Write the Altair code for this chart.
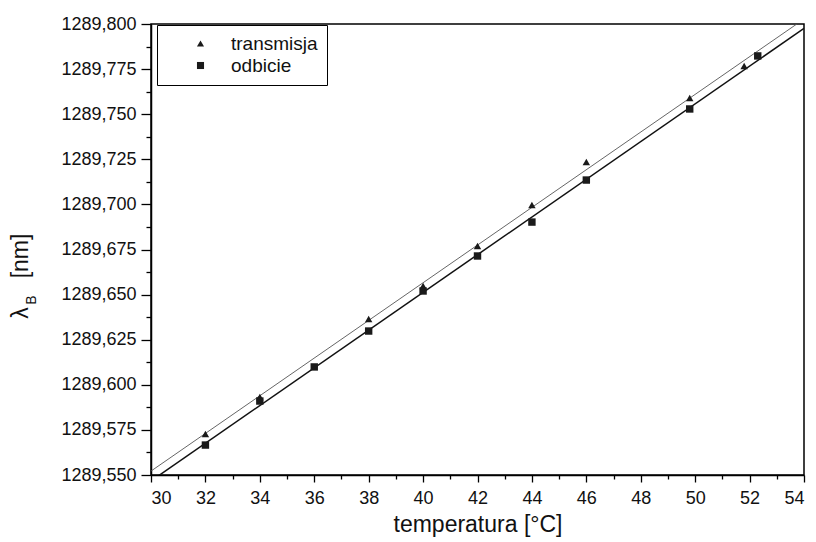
import altair as alt
import pandas as pd

# --- data ---
trans_x = [32, 34, 38, 40, 42, 44, 46, 49.8, 51.8]
trans_y = [1289.5727, 1289.5932, 1289.6365, 1289.6548, 1289.6769, 1289.6997, 1289.7235, 1289.7590, 1289.7767]
odb_x = [32, 34, 36, 38, 40, 42, 44, 46, 49.8, 52.3]
odb_y = [1289.5666, 1289.5910, 1289.6099, 1289.6298, 1289.6520, 1289.6714, 1289.6902, 1289.7135, 1289.7529, 1289.7823]
series_names = ["transmisja", "odbicie"]

x_ticks = [30, 31, 32, 33, 34, 35, 36, 37, 38, 39, 40, 41, 42, 43, 44, 45, 46, 47, 48, 49, 50, 51, 52, 53, 54]
y_ticks = [1289.55, 1289.5625, 1289.575, 1289.5875, 1289.6, 1289.6125, 1289.625, 1289.6375,
           1289.65, 1289.6625, 1289.675, 1289.6875, 1289.7, 1289.7125, 1289.725, 1289.7375,
           1289.75, 1289.7625, 1289.775, 1289.7875, 1289.8]

rows = [{"temp": x, "lam": y, "series": series_names[0]} for x, y in zip(trans_x, trans_y)]
rows += [{"temp": x, "lam": y, "series": series_names[1]} for x, y in zip(odb_x, odb_y)]
df = pd.DataFrame(rows)
df["fit"] = df["series"]

FONT = "Liberation Sans"

x_enc = alt.X(
    "temp:Q",
    scale=alt.Scale(domain=[30, 54], nice=False, zero=False),
    axis=alt.Axis(
        values=x_ticks,
        labelExpr="datum.value % 2 == 0 ? format(datum.value, 'd') : ''",
        tickSize={"condition": {"test": "datum.value % 2 == 0", "value": 7}, "value": 4},
        title="temperatura [°C]",
        titlePadding=6,
        labelPadding=7,
    ),
)
y_enc = alt.Y(
    "lam:Q",
    scale=alt.Scale(domain=[1289.55, 1289.80], nice=False, zero=False),
    axis=alt.Axis(
        values=y_ticks,
        labelExpr="abs(datum.value*40 - round(datum.value*40)) < 0.01 ? replace(format(datum.value, '.3f'), '.', ',') : ''",
        tickSize={"condition": {"test": "abs(datum.value*40 - round(datum.value*40)) < 0.01", "value": 10}, "value": 5},
        title=None,
        labelPadding=5,
    ),
)

base = alt.Chart(df)

# fit lines: domain order reversed so their (hidden) legends do not merge with the shape legend
fit_domain = series_names[::-1]
lines = base.transform_regression(
    "temp", "lam", groupby=["fit"], extent=[30, 54]
).mark_line(clip=True).encode(
    x=x_enc,
    y=y_enc,
    color=alt.Color("fit:N", scale=alt.Scale(domain=fit_domain, range=["#111111", "#555555"]), legend=None),
    strokeWidth=alt.StrokeWidth("fit:N", scale=alt.Scale(domain=fit_domain, range=[1.5, 0.9]), legend=None),
)

points = base.mark_point(filled=True, opacity=1, color="#1a1a1a", size=55).encode(
    x=x_enc,
    y=y_enc,
    shape=alt.Shape(
        "series:N",
        scale=alt.Scale(domain=series_names, range=["triangle-up", "square"]),
        legend=alt.Legend(
            title=None,
            orient="none",
            legendX=6,
            legendY=1,
            strokeColor="black",
            fillColor="white",
            padding=9,
            symbolOffset=25,
            labelOffset=21,
            labelFontSize=19,
            labelFont=FONT,
            labelColor="#111",
            symbolSize=50,
            symbolFillColor="#1a1a1a",
            symbolStrokeColor="#1a1a1a",
            rowPadding=2,
            labelLimit=300,
        ),
    ),
)

one = pd.DataFrame({"a": [0]})
t_lambda = alt.Chart(one).mark_text(text="λ", angle=270, fontSize=23, font=FONT, align="center", baseline="middle", color="#111").encode(
    x=alt.value(-130), y=alt.value(289))
t_sub = alt.Chart(one).mark_text(text="B", angle=270, fontSize=14, font=FONT, align="center", baseline="middle", color="#111").encode(
    x=alt.value(-119), y=alt.value(276))
t_nm = alt.Chart(one).mark_text(text="[nm]", angle=270, fontSize=23, font=FONT, align="center", baseline="middle", color="#111").encode(
    x=alt.value(-130), y=alt.value(232))

chart = alt.layer(lines, points, t_lambda, t_sub, t_nm).properties(
    width=653,
    height=451,
    autosize=alt.AutoSizeParams(type="none"),
    padding={"left": 143, "top": 16, "right": 4, "bottom": 66},
    background="white",
).configure_view(
    stroke="black", strokeWidth=1.5
).configure_axis(
    labelFont=FONT, titleFont=FONT, labelColor="#111", titleColor="#111",
    labelFontSize=18, titleFontSize=23, titleFontWeight="normal", grid=False,
    domainColor="black", domainWidth=1.5, tickColor="black", tickWidth=1.3,
)

chart.save("out.html", embed_options={"renderer": "svg", "actions": False})
